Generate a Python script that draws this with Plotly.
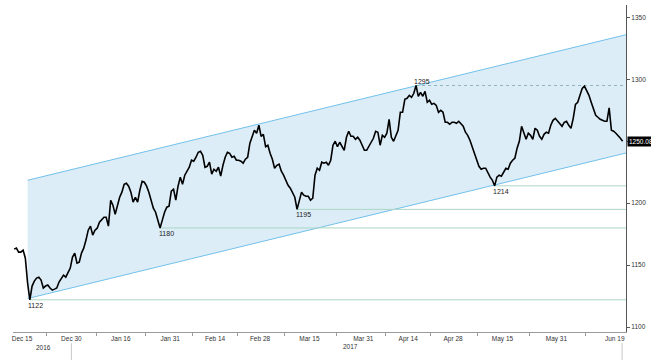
import pandas as pd
import plotly.graph_objects as go

# ---- data ----
prices = [
    1162.9, 1163.7, 1160.5, 1160.5, 1162.1, 1155.6, 1135.5, 1122, 1133.1, 1137.1,
    1139.5, 1140.3, 1137.9, 1131.5, 1133.1, 1133.9, 1131.5, 1129.8, 1130.6, 1131.5,
    1136.3, 1139.5, 1141.9, 1140.3, 1143.5, 1147.6, 1156.5, 1159.7, 1151.6, 1152.4,
    1159.7, 1163.7, 1170.2, 1178.2, 1181.5, 1174.2, 1178.2, 1179.8, 1184.7, 1187.1,
    1188.7, 1188.7, 1181.5, 1202.4, 1198.4, 1191.1, 1198.4, 1204.8, 1208.9, 1215.3,
    1216.1, 1213.7, 1208.9, 1200.8, 1204.8, 1200.8, 1210.5, 1217.7, 1216.9, 1213.7,
    1208.9, 1202.4, 1196, 1192.7, 1185.5, 1180, 1186.3, 1192.7, 1196.8, 1197.6,
    1209.7, 1211.3, 1202.4, 1213.7, 1221, 1215.3, 1222.6, 1225.8, 1229, 1234.7,
    1233.9, 1237.1, 1241.1, 1241.9, 1238.7, 1229, 1229.8, 1233.1, 1223.4, 1227.4,
    1225.8, 1229, 1221.8, 1230.6, 1237.1, 1241.1, 1240.3, 1237.1, 1237.9, 1234.7,
    1234.7, 1233.9, 1232.3, 1235.5, 1237.1, 1248.4, 1253.2, 1258.9, 1256.5, 1262.9,
    1254, 1255.6, 1245.6, 1246.8, 1240.3, 1235.5, 1228.2, 1230.6, 1231.5, 1225.8,
    1222.6, 1217.7, 1214.5, 1212.1, 1208.1, 1204.8, 1195, 1202.4, 1208.9, 1206.5,
    1205.6, 1205.6, 1202.4, 1204, 1222.6, 1228.2, 1226.6, 1233.1, 1232.3, 1233.1,
    1230.6, 1234.7, 1246.8, 1250, 1245.6, 1249.2, 1245.6, 1242.7, 1253.2, 1258.1,
    1254, 1254, 1251.6, 1253.2, 1250.8, 1246.8, 1242.7, 1242.7, 1245.6, 1249.2,
    1252.4, 1258.1, 1257.3, 1246.8, 1254.8, 1253.2, 1256.5, 1267.7, 1253.2, 1250,
    1254, 1258.9, 1273.4, 1273.4, 1283.9, 1284.7, 1287.1, 1285.5, 1288.7, 1295,
    1286.3, 1289.5, 1286.3, 1290.3, 1281.5, 1283.1, 1279.8, 1280.6, 1279, 1273.4,
    1275, 1273.4, 1265.3, 1265.3, 1263.7, 1265.3, 1265.3, 1264.5, 1266.1, 1263.7,
    1262.1, 1257.3, 1254.8, 1250.8, 1245.6, 1238.7, 1233.9, 1229.8, 1227.4, 1228.2,
    1228.2, 1224.2, 1221, 1218.5, 1214, 1221, 1222.6, 1221.8, 1225, 1228.2,
    1227.4, 1232.3, 1234.7, 1236.3, 1244.4, 1250, 1262.1, 1257.3, 1251.6, 1256.5,
    1254.8, 1251.6, 1260.5, 1258.9, 1254, 1251.6, 1255.6, 1257.3, 1256.5, 1262.9,
    1266.9, 1268.5, 1266.1, 1263.7, 1262.1, 1265.3, 1266.1, 1262.9, 1260.5, 1268.5,
    1279.8, 1281.5, 1286.3, 1292.7, 1294.5, 1291.1, 1287.1, 1281.5, 1276.6, 1271,
    1269.4, 1267.7, 1266.9, 1266.1, 1266.1, 1277, 1258.9, 1258.1, 1256.5, 1254,
    1252.4, 1250.08,
]
first_day = "2016-12-13"
last_day = "2017-06-21"
range_start = "2016-12-13 00:00"
range_end = "2017-06-21 12:00"

tick_dates = ["2016-12-15", "2016-12-30", "2017-01-16", "2017-01-31", "2017-02-14",
              "2017-02-28", "2017-03-15", "2017-03-31", "2017-04-14", "2017-04-28",
              "2017-05-15", "2017-05-31", "2017-06-19"]
tick_labels = ["Dec 15", "Dec 30", "Jan 16", "Jan 31", "Feb 14", "Feb 28", "Mar 15",
               "Mar 31", "Apr 14", "Apr 28", "May 15", "May 31", "Jun 19"]
y_ticks = [1100, 1150, 1200, 1250, 1300, 1350]
y_tick_labels = ["1100", "1150", "1200", "", "1300", "1350"]  # 1250 is covered by the last-price tag

channel_dates = ["2016-12-16 06:00", range_end]
channel_lower = [1123.0, 1240.5]
channel_upper = [1218.5, 1336.0]

support_levels = [1122, 1180, 1195, 1214]
resistance_level = 1295
last_price = 1250.08

# ---- time index: two readings per business day ----
days = pd.bdate_range(first_day, last_day)
times = []
for d in days:
    times.append(d + pd.Timedelta(hours=6))
    times.append(d + pd.Timedelta(hours=18))
times = [t.strftime("%Y-%m-%d %H:%M") for t in times][:len(prices)]

# minor ticks halfway (in trading days) between labelled dates
bd = list(pd.bdate_range(first_day, last_day))
bd_pos = {d.strftime("%Y-%m-%d"): i for i, d in enumerate(bd)}
minor_vals = []
for a, b in zip(tick_dates[:-1], tick_dates[1:]):
    m = (bd_pos[a] + bd_pos[b]) / 2.0
    base = bd[int(m)]
    frac = m - int(m)
    minor_vals.append((base + pd.Timedelta(hours=24 * frac)).strftime("%Y-%m-%d %H:%M"))

FILL = "#dcedf8"
CH_LINE = "#72c1ea"
LEVEL = "#acd5c5"
FONT = "Liberation Sans, Arial, sans-serif"

fig = go.Figure()

# channel fill
fig.add_trace(go.Scatter(
    x=[channel_dates[0], channel_dates[1], channel_dates[1], channel_dates[0]],
    y=[channel_lower[0], channel_lower[1], channel_upper[1], channel_upper[0]],
    fill="toself", fillcolor=FILL, mode="lines", line=dict(width=0),
    hoverinfo="skip", showlegend=False))
fig.add_trace(go.Scatter(x=channel_dates, y=channel_upper, mode="lines",
                         line=dict(color=CH_LINE, width=1), showlegend=False))
fig.add_trace(go.Scatter(x=channel_dates, y=channel_lower, mode="lines",
                         line=dict(color=CH_LINE, width=1), showlegend=False))

# support levels
for v in support_levels:
    i = prices.index(v)
    fig.add_trace(go.Scatter(x=[times[i], range_end], y=[v, v], mode="lines",
                             line=dict(color=LEVEL, width=1), showlegend=False))
    fig.add_annotation(x=times[i], y=v, text=str(v), showarrow=False,
                       xanchor="center", yanchor="top", xshift=6, yshift=0,
                       font=dict(family=FONT, size=7, color="#222"))

# resistance level (dashed)
ir = prices.index(resistance_level)
fig.add_trace(go.Scatter(x=[times[ir], range_end], y=[resistance_level] * 2, mode="lines",
                         line=dict(color="#7fa3b3", width=0.8, dash="3px,3px"),
                         showlegend=False))
fig.add_annotation(x=times[ir], y=resistance_level, text=str(resistance_level),
                   showarrow=False, xanchor="center", yanchor="bottom", xshift=6, yshift=-1,
                   font=dict(family=FONT, size=7, color="#222"))

# price line
fig.add_trace(go.Scatter(x=times, y=prices, mode="lines",
                         line=dict(color="#000000", width=1.6), showlegend=False))

# last price tag
fig.add_annotation(xref="paper", x=1.0, y=last_price, text=f"{last_price:.2f}",
                   showarrow=False, xanchor="left", yanchor="middle", xshift=1,
                   bgcolor="#000000", borderpad=1,
                   font=dict(family=FONT, size=6.5, color="#ffffff"))

# year labels
fig.add_annotation(xref="paper", yref="paper", x=0.049, y=-0.046, text="2016",
                   showarrow=False, xanchor="center", yanchor="middle",
                   font=dict(family=FONT, size=6.5, color="#333"))
fig.add_annotation(xref="paper", yref="paper", x=0.55, y=-0.043, text="2017",
                   showarrow=False, xanchor="center", yanchor="middle",
                   font=dict(family=FONT, size=6.5, color="#333"))

# year separators under the axis
for xd in ["2016-12-30 00:00", "2017-06-20 15:00"]:
    fig.add_shape(type="line", xref="x", yref="paper", x0=xd, x1=xd, y0=-0.034, y1=-0.09,
                  line=dict(color="#c8c8c8", width=1))

fig.update_layout(
    width=651, height=360,
    margin=dict(l=13, r=25, t=5, b=28),
    paper_bgcolor="white", plot_bgcolor="white",
    showlegend=False,
    xaxis=dict(
        range=[range_start, range_end],
        rangebreaks=[dict(bounds=["sat", "mon"])],
        tickmode="array", tickvals=tick_dates, ticktext=tick_labels,
        showgrid=False, zeroline=False, showline=True, linecolor="#9a9a9a", linewidth=1,
        ticks="", tickfont=dict(family=FONT, size=6.5, color="#333"),
        minor=dict(tickmode="array", tickvals=minor_vals, ticks="outside",
                   ticklen=3, tickcolor="#9a9a9a", showgrid=False),
    ),
    yaxis=dict(
        side="right", range=[1096, 1360],
        tickmode="array", tickvals=y_ticks, ticktext=y_tick_labels,
        showgrid=False, zeroline=False, showline=True, linecolor="#555", linewidth=1,
        ticks="outside", ticklen=3, tickcolor="#555",
        tickfont=dict(family=FONT, size=6.5, color="#333"),
    ),
)

fig.write_html("out.html", config={"displayModeBar": False},
               post_script="document.body.style.margin='0';document.body.style.padding='0';")
